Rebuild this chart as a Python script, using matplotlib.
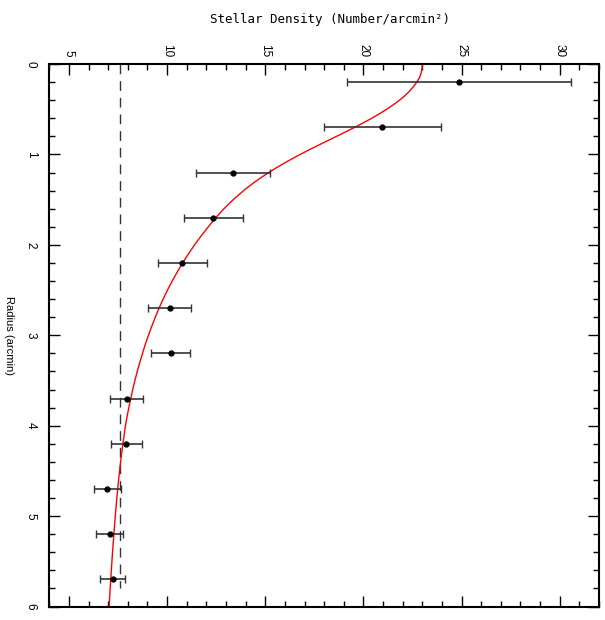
import matplotlib
matplotlib.use("Agg")
import matplotlib.pyplot as plt
from matplotlib.ticker import MultipleLocator

# Observed radial density profile
radius = [0.2, 0.7, 1.2, 1.7, 2.2, 2.7, 3.2, 3.7, 4.2, 4.7, 5.2, 5.7]
density = [24.87, 20.97, 13.35, 12.36, 10.77, 10.13, 10.18, 7.94, 7.93, 6.96, 7.07, 7.22]
density_err = [5.7, 3.0, 1.87, 1.52, 1.25, 1.09, 1.0, 0.83, 0.79, 0.69, 0.68, 0.65]

# Fitted profile
fit_r = [0.0, 0.05, 0.1, 0.15, 0.2, 0.25, 0.3, 0.35, 0.4, 0.45, 0.5, 0.55, 0.6, 0.65,
         0.7, 0.75, 0.8, 0.85, 0.9, 0.95, 1.0, 1.05, 1.1, 1.15, 1.2, 1.25, 1.3, 1.35,
         1.4, 1.5, 1.6, 1.7, 1.8, 1.9, 2.0, 2.1, 2.2, 2.3, 2.4, 2.5, 2.6, 2.7, 2.8,
         2.9, 3.0, 3.1, 3.2, 3.3, 3.4, 3.5, 3.6, 3.7, 3.8, 3.9, 4.0, 4.2, 4.4, 4.6,
         4.8, 5.0, 5.2, 5.4, 5.6, 5.8, 6.0]
fit_d = [23.0, 22.985, 22.94, 22.86, 22.72, 22.55, 22.35, 22.12, 21.84, 21.53, 21.19,
         20.82, 20.42, 20.0, 19.56, 19.1, 18.63, 18.16, 17.69, 17.23, 16.78, 16.35,
         15.94, 15.55, 15.18, 14.83, 14.5, 14.19, 13.9, 13.37, 12.9, 12.48, 12.1,
         11.74, 11.4, 11.09, 10.79, 10.52, 10.26, 10.02, 9.8, 9.59, 9.4, 9.22, 9.05,
         8.89, 8.75, 8.61, 8.48, 8.36, 8.25, 8.15, 8.05, 7.96, 7.88, 7.75, 7.63, 7.53,
         7.44, 7.36, 7.29, 7.22, 7.16, 7.1, 7.05]

# Background level
bg_level = 7.58
bg_r = [0.0, 5.8]

fig = plt.figure(figsize=(6.05, 6.2), dpi=100)
ax = fig.add_axes([49.3 / 605, 1 - 606.5 / 620, (599 - 49.3) / 605, (606.5 - 64) / 620])

ax.plot([bg_level, bg_level], bg_r, color="#333333", lw=1.0, ls=(0, (7, 5)))
ax.plot(fit_d, fit_r, color="red", lw=1.0)
ax.errorbar(density, radius, xerr=density_err, fmt="o", color="black", ms=3.5,
            ecolor="#333333", elinewidth=1.2, capsize=3, capthick=1.0)

ax.set_xlim(4, 32)
ax.set_ylim(6, 0)

ax.xaxis.set_major_locator(MultipleLocator(5))
ax.xaxis.set_minor_locator(MultipleLocator(1))
ax.yaxis.set_major_locator(MultipleLocator(1))
ax.yaxis.set_minor_locator(MultipleLocator(0.2))

ax.tick_params(which="both", direction="in", top=True, bottom=True, left=True, right=True,
               labeltop=True, labelbottom=False, labelleft=True, labelright=False, width=1.0)
ax.tick_params(which="major", length=8)
ax.tick_params(which="minor", length=4)
ax.tick_params(axis="x", which="major", pad=5)
ax.tick_params(axis="y", which="major", pad=9)

for lab in ax.get_xticklabels():
    lab.set_rotation(-90)
    lab.set_fontfamily("Liberation Sans")
    lab.set_fontsize(8.5)
for lab in ax.get_yticklabels():
    lab.set_rotation(-90)
    lab.set_fontfamily("Liberation Sans")
    lab.set_fontsize(8.5)
    lab.set_va("center")

for sp in ax.spines.values():
    sp.set_linewidth(1.5)

ax.set_ylabel("Radius (arcmin)", rotation=-90, fontfamily="Liberation Sans", fontsize=8,
              va="center", ha="center")
ax.yaxis.set_label_coords((8.5 - 49.3) / 549.7, 0.5)

fig.text(330 / 605, 1 - 19 / 620, "Stellar Density (Number/arcmin\u00b2)",
         fontfamily="DejaVu Sans Mono", fontsize=9, ha="center", va="center")

fig.savefig("out.png", dpi=100)
